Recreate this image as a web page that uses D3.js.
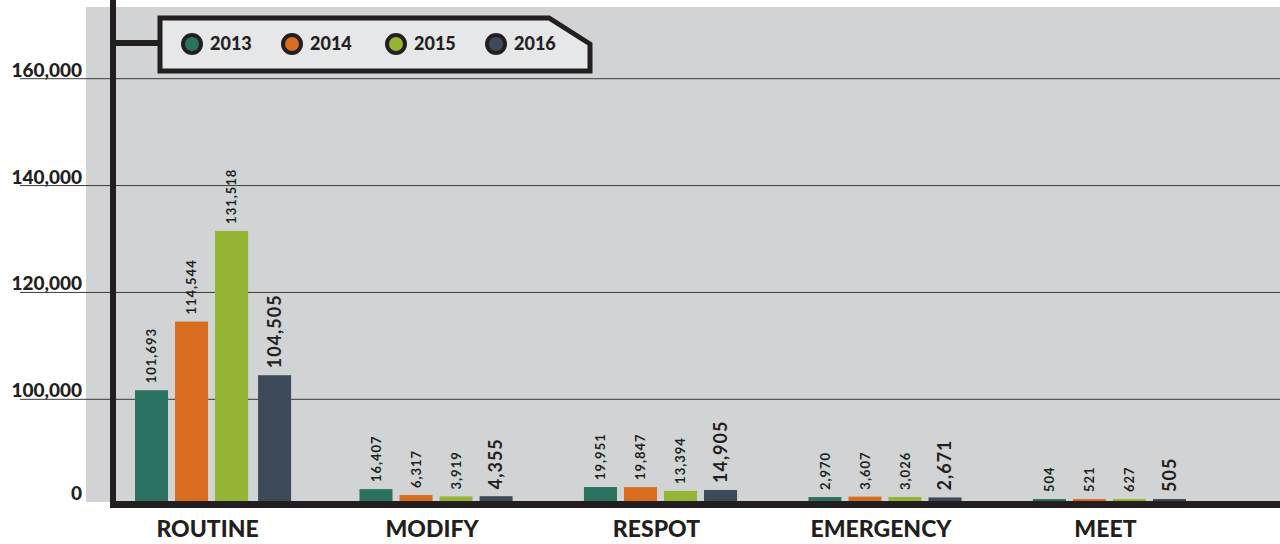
<!DOCTYPE html>
<html>
<head>
<meta charset="utf-8">
<script src="https://cdn.jsdelivr.net/npm/d3@7"></script>
<style>
  body { margin: 0; background: #fff; }
  svg text { font-family: "Lato", "DejaVu Sans", sans-serif; fill: #231f20; }
</style>
</head>
<body>
<div id="chart"></div>
<script>
var width = 1280
var height = 544

var categories = ["ROUTINE", "MODIFY", "RESPOT", "EMERGENCY", "MEET"]
var years = ["2013", "2014", "2015", "2016"]
var v2013 = [101693, 16407, 19951, 2970, 504]
var v2014 = [114544, 6317, 19847, 3607, 521]
var v2015 = [131518, 3919, 13394, 3026, 627]
var v2016 = [104505, 4355, 14905, 2671, 505]
var yTicks = [0, 100000, 120000, 140000, 160000]
var colors = ["#2b7360", "#d96d1f", "#94b433", "#3d4a5a"]

var series = [v2013, v2014, v2015, v2016]

var svg = d3.select("#chart").append("svg")
    .attr("width", width)
    .attr("height", height);

// plot background
svg.append("rect")
    .attr("x", 86).attr("y", 7)
    .attr("width", width - 86).attr("height", 495)
    .attr("fill", "#d1d3d4");

// the axis is broken: low values squeezed, above 100,000 regular
var y = d3.scaleLinear()
    .domain([0, 3000, 20000, 100000, 160000])
    .range([501, 497, 487, 399.3, 78.7]);

var x0 = d3.scaleBand()
    .domain(categories)
    .range([135, 1186])
    .paddingInner(0.318);

var x1 = d3.scaleBand()
    .domain(years)
    .range([0, x0.bandwidth()])
    .paddingInner(0.175);

var color = d3.scaleOrdinal().domain(years).range(colors);

// gridlines + labels
var ticks = svg.append("g").selectAll("g")
    .data(yTicks)
    .enter().append("g");

ticks.filter(function(d) { return d > 0; })
    .append("line")
    .attr("x1", 20).attr("x2", width)
    .attr("y1", function(d) { return y(d); })
    .attr("y2", function(d) { return y(d); })
    .attr("stroke", "#3a3a3a")
    .attr("stroke-width", 1);

ticks.append("text")
    .attr("x", 82)
    .attr("y", function(d) { return d == 0 ? y(d) - 1 : y(d) - 2; })
    .attr("text-anchor", "end")
    .attr("font-size", "19px")
    .attr("font-weight", "900")
    .text(function(d) { return d3.format(",")(d); });

// bars
var rows = []
categories.forEach(function(c, i) {
    years.forEach(function(yr, j) {
        rows.push({cat: c, year: yr, value: series[j][i]});
    });
});

var bars = svg.append("g").selectAll("g")
    .data(rows)
    .enter().append("g")
    .attr("transform", function(d) {
        var off = d.year == "2016" && d.cat == "ROUTINE" ? 3 : 0;
        return "translate(" + (x0(d.cat) + x1(d.year) + off) + ",0)";
    });

function barTop(d) { return Math.min(y(d.value), 499); }

bars.append("rect")
    .attr("x", 0)
    .attr("width", x1.bandwidth())
    .attr("y", barTop)
    .attr("height", function(d) { return 502 - barTop(d); })
    .attr("fill", function(d) { return color(d.year); });

bars.append("text")
    .attr("transform", function(d) {
        return "translate(" + (x1.bandwidth() / 2) + "," + (barTop(d) - 7) + ") rotate(-90)";
    })
    .attr("dy", "0.35em")
    .attr("text-anchor", "start")
    .attr("font-weight", "bold")
    .attr("letter-spacing", "1px")
    .attr("font-size", function(d) { return d.year == "2016" ? "18px" : "13px"; })
    .text(function(d) { return d3.format(",")(d.value); });

// category labels
svg.append("g").selectAll("text")
    .data(categories)
    .enter().append("text")
    .attr("x", function(d) { return x0(d) + x0.bandwidth() / 2 - 4; })
    .attr("y", 537)
    .attr("text-anchor", "middle")
    .attr("font-size", "23px")
    .attr("font-weight", "900")
    .text(function(d) { return d; });

// thick axes
svg.append("line")
    .attr("x1", 110).attr("x2", width)
    .attr("y1", 504.5).attr("y2", 504.5)
    .attr("stroke", "#231f20").attr("stroke-width", 7);
svg.append("line")
    .attr("x1", 113).attr("x2", 113)
    .attr("y1", 0).attr("y2", 508)
    .attr("stroke", "#231f20").attr("stroke-width", 6);

// legend
svg.append("line")
    .attr("x1", 113).attr("x2", 162)
    .attr("y1", 43).attr("y2", 43)
    .attr("stroke", "#231f20").attr("stroke-width", 6);
svg.append("path")
    .attr("d", "M160,18 L549,18 L590,44 L590,71 L160,71 Z")
    .attr("fill", "#e6e7e8")
    .attr("stroke", "#231f20")
    .attr("stroke-width", 5);

var legendX = [192, 292, 396, 496]
var leg = svg.append("g").selectAll("g")
    .data(years)
    .enter().append("g")
    .attr("transform", function(d, i) { return "translate(" + legendX[i] + ",44)"; });
leg.append("circle")
    .attr("r", 9)
    .attr("fill", function(d) { return color(d); })
    .attr("stroke", "#231f20")
    .attr("stroke-width", 4);
leg.append("text")
    .attr("x", 18)
    .attr("y", 6)
    .attr("font-size", "18px")
    .attr("font-weight", "900")
    .text(function(d) { return d; });
</script>
</body>
</html>
